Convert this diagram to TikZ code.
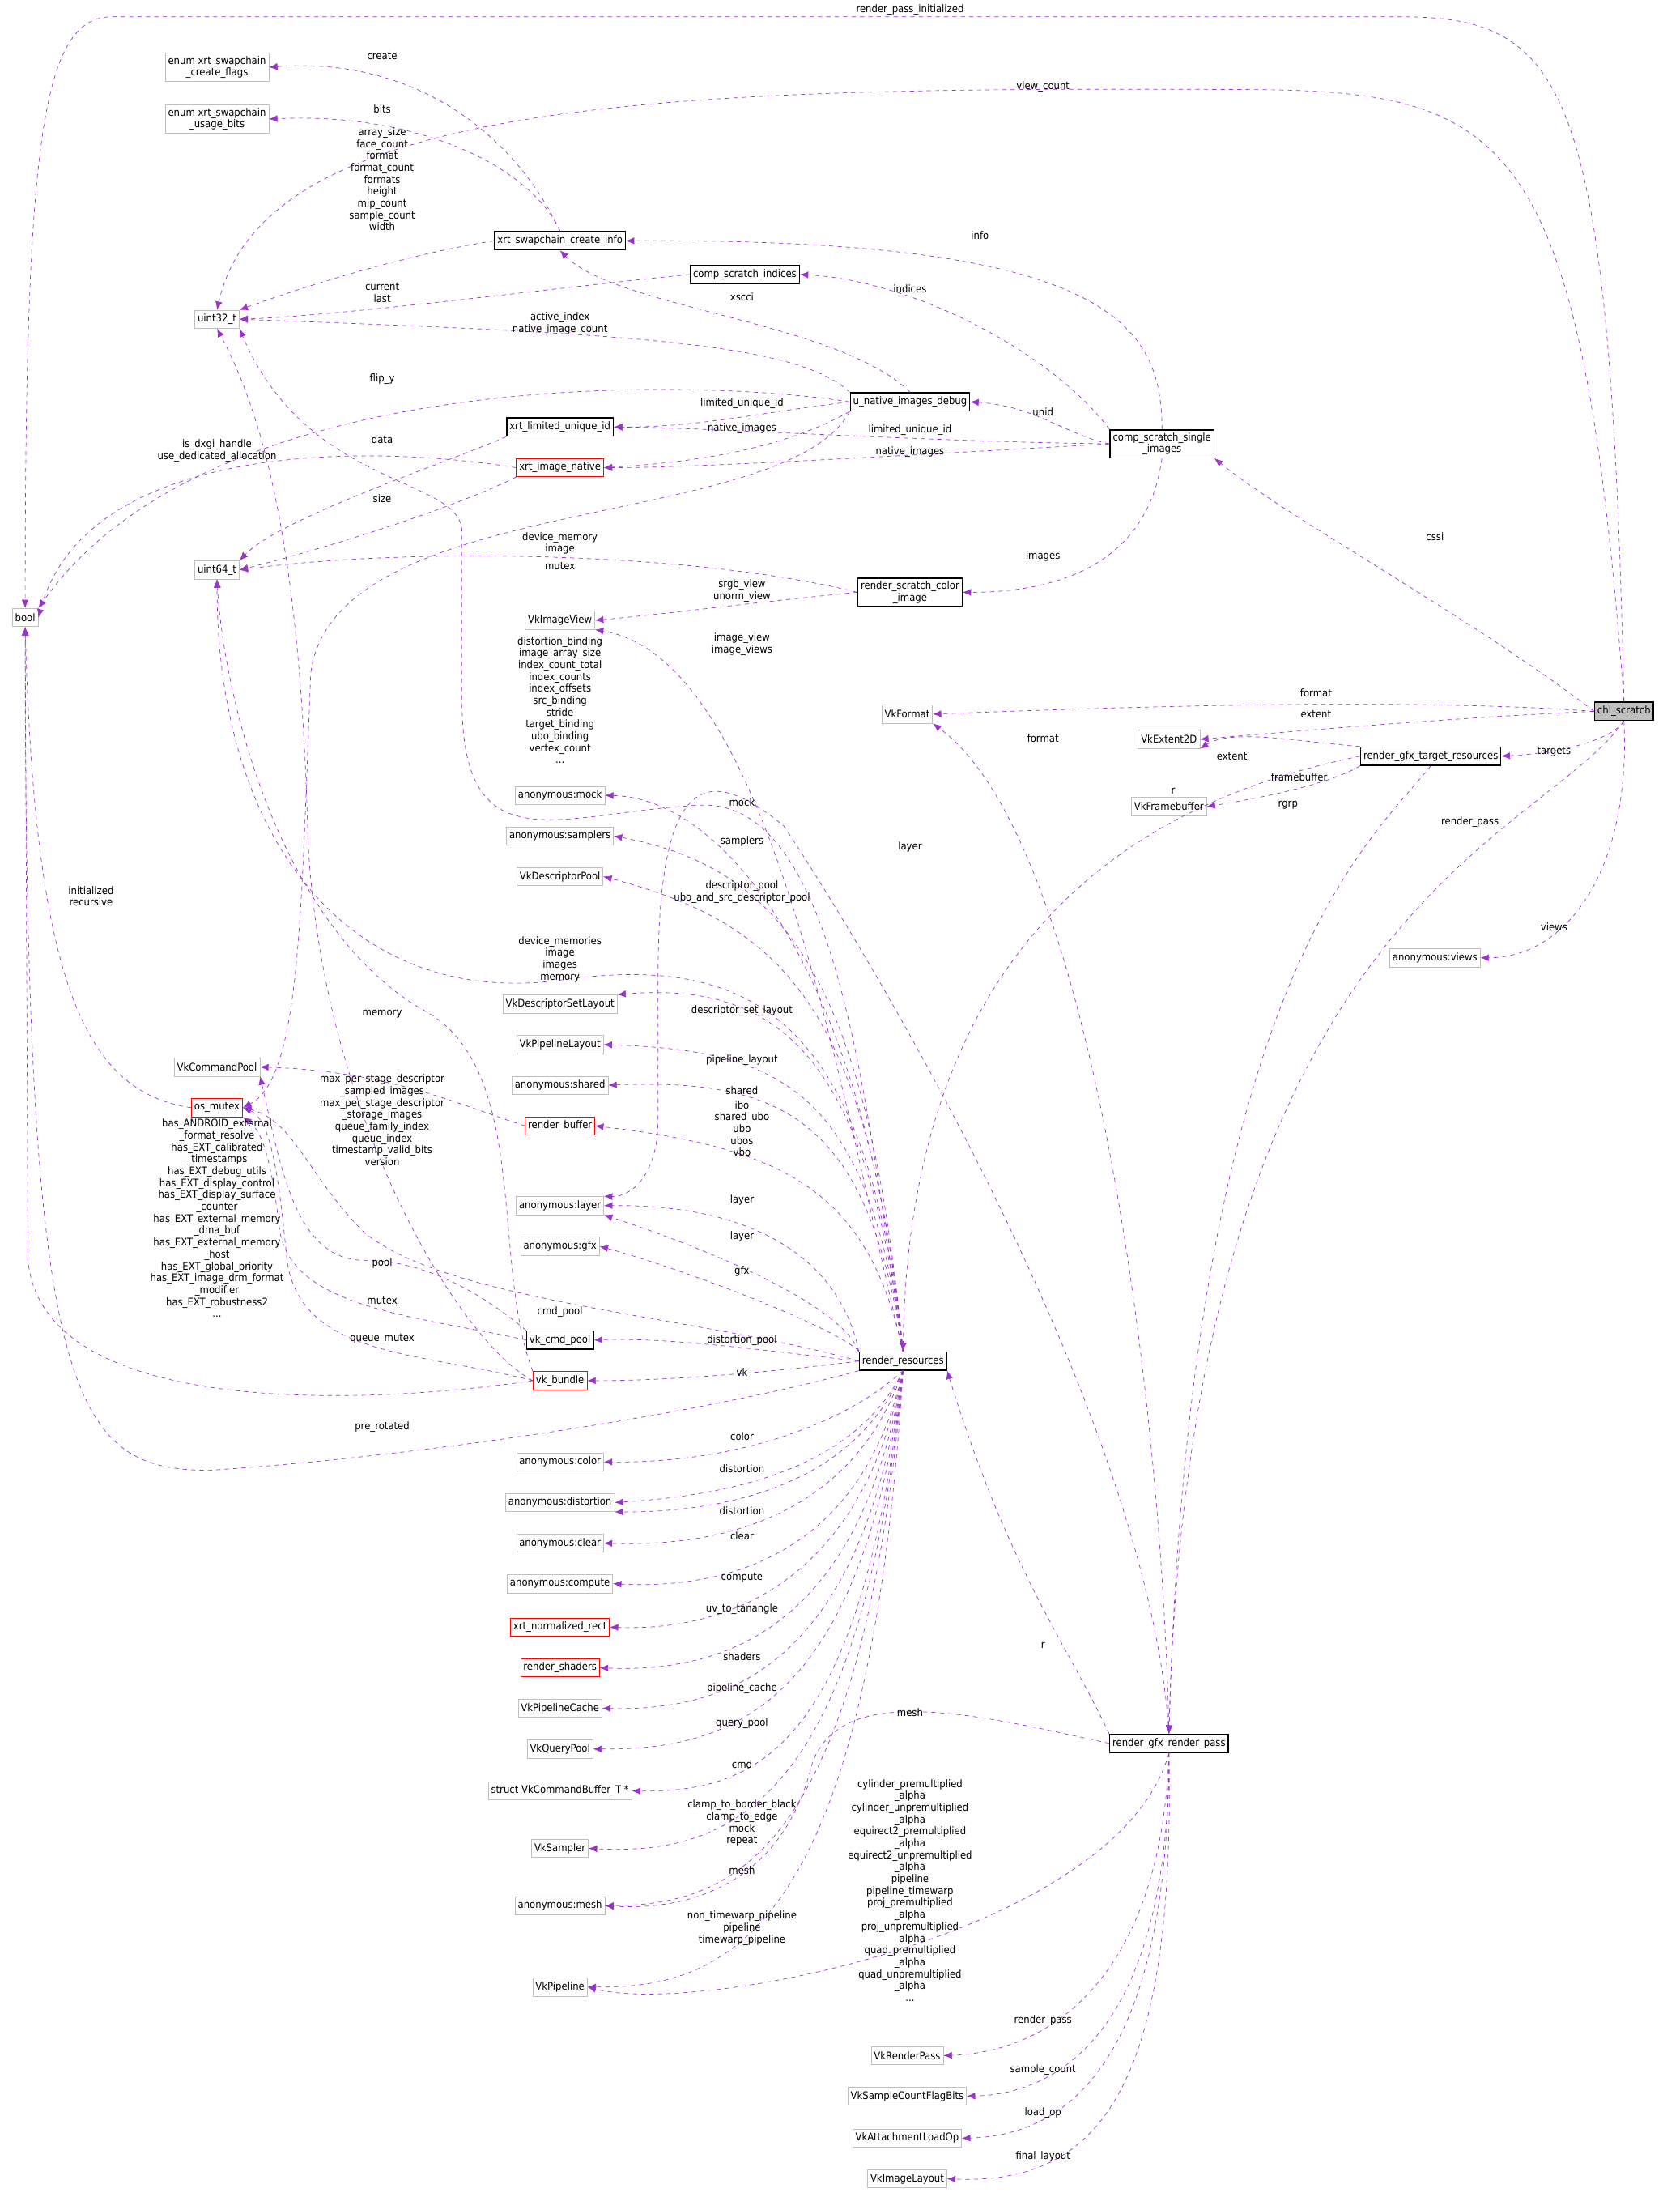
\documentclass[tikz,border=0pt]{standalone}
\usepackage{fontspec}
\setmainfont{DejaVu Sans Condensed}
\usetikzlibrary{arrows.meta}
\definecolor{depcol}{RGB}{154,50,205}
\definecolor{boxgray}{RGB}{191,191,191}
\tikzset{
  box/.style={draw, rectangle, inner sep=2pt, minimum height=13pt, align=center, font=\fontsize{7.5}{8.5}\selectfont},
  gbox/.style={box, draw=boxgray},
  bbox/.style={box, draw=black, thick},
  rbox/.style={box, draw=red},
  dep/.style={draw=depcol, dashed, -{Latex[length=6pt,width=5pt]}},
  lbl/.style={align=center, font=\fontsize{7.5}{8.5}\selectfont, inner sep=0pt},
}

\begin{document}
\begin{tikzpicture}[x=1pt,y=-1pt]
  \useasboundingbox (0,0) rectangle (1200,1569);
  % classes
  \node[box, draw=black, thick, fill=boxgray] (chl) at (1160,508) {chl\_scratch};
  \node[gbox] (bool) at (18,441) {bool};
  \node[gbox] (cflags) at (155,48) {enum xrt\_swapchain\\\_create\_flags};
  \node[gbox] (ubits) at (155,85) {enum xrt\_swapchain\\\_usage\_bits};
  \node[gbox] (u32) at (155,228) {uint32\_t};
  \node[bbox] (xsci) at (400,172) {xrt\_swapchain\_create\_info};
  \node[bbox] (csi) at (532,196) {comp\_scratch\_indices};
  \node[bbox] (unid) at (650,287) {u\_native\_images\_debug};
  \node[bbox] (xluid) at (400,305) {xrt\_limited\_unique\_id};
  \node[rbox] (xin) at (400,334) {xrt\_image\_native};
  \node[bbox] (cssi) at (830,317) {comp\_scratch\_single\\\_images};
  \node[gbox] (u64) at (155,407) {uint64\_t};
  \node[bbox] (rsci) at (650,423) {render\_scratch\_color\\\_image};
  \node[gbox] (imgview) at (400,443) {VkImageView};
  \node[gbox] (fmt) at (648,510) {VkFormat};
  \node[gbox] (ext) at (835,528) {VkExtent2D};
  \node[bbox] (rgtr) at (1022,540) {render\_gfx\_target\_resources};
  \node[gbox] (fb) at (835,576) {VkFramebuffer};
  \node[gbox] (views) at (1025,684) {anonymous:views};
  \node[gbox] (mock) at (400,568) {anonymous:mock};
  \node[gbox] (samplers) at (400,597) {anonymous:samplers};
  \node[gbox] (dpool) at (400,626) {VkDescriptorPool};
  \node[gbox] (dsl) at (400,717) {VkDescriptorSetLayout};
  \node[gbox] (plyt) at (400,746) {VkPipelineLayout};
  \node[gbox] (shared) at (400,775) {anonymous:shared};
  \node[rbox] (rbuf) at (400,804) {render\_buffer};
  \node[gbox] (layer) at (400,861) {anonymous:layer};
  \node[gbox] (gfx) at (400,890) {anonymous:gfx};
  \node[bbox] (vkcp) at (400,957) {vk\_cmd\_pool};
  \node[rbox] (vkb) at (400,986) {vk\_bundle};
  \node[gbox] (cpool) at (155,762) {VkCommandPool};
  \node[rbox] (osm) at (155,791) {os\_mutex};
  \node[bbox] (rr) at (645,972) {render\_resources};
  \node[gbox] (color) at (400,1044) {anonymous:color};
  \node[gbox] (dist) at (400,1073) {anonymous:distortion};
  \node[gbox] (clear) at (400,1102) {anonymous:clear};
  \node[gbox] (compute) at (400,1131) {anonymous:compute};
  \node[rbox] (xnr) at (400,1162) {xrt\_normalized\_rect};
  \node[rbox] (shaders) at (400,1191) {render\_shaders};
  \node[gbox] (pcache) at (400,1220) {VkPipelineCache};
  \node[gbox] (qpool) at (400,1249) {VkQueryPool};
  \node[gbox] (cmdbuf) at (400,1279) {struct VkCommandBuffer\_T *};
  \node[gbox] (sampler) at (400,1320) {VkSampler};
  \node[gbox] (mesh) at (400,1361) {anonymous:mesh};
  \node[gbox] (pipe) at (400,1419) {VkPipeline};
  \node[bbox] (rgrp) at (835,1245) {render\_gfx\_render\_pass};
  \node[gbox] (rpass) at (648,1468) {VkRenderPass};
  \node[gbox] (scount) at (648,1497) {VkSampleCountFlagBits};
  \node[gbox] (loadop) at (648,1527) {VkAttachmentLoadOp};
  \node[gbox] (ilayout) at (648,1556) {VkImageLayout};

  % chl_scratch
  \draw[dep] (chl.north) .. controls (1150,60) and (1120,12) .. (1000,12) -- (80,12) .. controls (30,12) and (18,100) .. (bool.north);
  \node[lbl] (l1) at (650,7) {render\_pass\_initialized};
  \draw[dep] (chl.north) .. controls (1130,100) and (1080,66) .. (900,64) .. controls (500,62) and (190,66) .. (u32.north);
  \node[lbl] (l2) at (745,62) {view\_count};
  \draw[dep] (chl.west) .. controls (1050,440) and (920,370) .. (cssi.south east);
  \node[lbl] (l3) at (1025,383) {cssi};
  \draw[dep] (chl.west) .. controls (1000,498) and (800,505) .. (fmt.east);
  \node[lbl] (l4) at (940,495) {format};
  \draw[dep] (chl.west) .. controls (1050,512) and (950,520) .. (ext.east);
  \node[lbl] (l5) at (940,510) {extent};
  \draw[dep] (chl.south) .. controls (1150,530) and (1110,538) .. (rgtr.east);
  \node[lbl] (l6) at (1110,537) {targets};
  \draw[dep] (chl.south) .. controls (1100,600) and (850,650) .. (rgrp.north);
  \node[lbl] (l7) at (1050,587) {render\_pass};
  \draw[dep] (chl.south) .. controls (1165,620) and (1120,684) .. (views.east);
  \node[lbl] (l8) at (1110,662) {views};

  % swapchain info
  \draw[dep] (xsci.north) .. controls (370,100) and (300,40) .. (cflags.east);
  \node[lbl] (l9) at (273,40) {create};
  \draw[dep] (xsci.north) .. controls (380,120) and (300,80) .. (ubits.east);
  \node[lbl] (l10) at (273,78) {bits};
  \draw[dep] (xsci.west) .. controls (300,180) and (230,200) .. (u32.north east);
  \node[lbl] (l11) at (273,128) {array\_size\\face\_count\\format\\format\_count\\formats\\height\\mip\_count\\sample\_count\\width};
  \draw[dep] (csi.west) .. controls (400,205) and (250,225) .. (u32.east);
  \node[lbl] (l12) at (273,209) {current\\last};
  \draw[dep] (unid.north west) .. controls (570,245) and (450,238) .. (u32.east);
  \node[lbl] (l13) at (400,231) {active\_index\\native\_image\_count};
  \draw[dep] (unid.north) .. controls (600,230) and (440,220) .. (xsci.south);
  \node[lbl] (l14) at (530,212) {xscci};
  \draw[dep] (unid.west) .. controls (500,270) and (150,260) .. (bool.north east);
  \node[lbl] (l15) at (273,271) {flip\_y};
  \draw[dep] (unid.west) .. controls (540,295) and (500,305) .. (xluid.east);
  \node[lbl] (l16) at (530,288) {limited\_unique\_id};
  \draw[dep] (unid.south west) .. controls (560,320) and (500,330) .. (xin.east);
  \node[lbl] (l17) at (530,306) {native\_images};
  \draw[dep] (unid.south west) .. controls (560,380) and (240,350) .. (222,480) .. controls (215,650) and (215,770) .. (osm.east);
  \node[lbl] (l18) at (400,404) {mutex};
  \draw[dep] (cssi.north west) .. controls (750,250) and (650,200) .. (csi.east);
  \node[lbl] (l19) at (650,206) {indices};
  \draw[dep] (cssi.north) .. controls (830,230) and (790,170) .. (xsci.east);
  \node[lbl] (l20) at (700,168) {info};
  \draw[dep] (cssi.west) .. controls (760,310) and (740,290) .. (unid.east);
  \node[lbl] (l21) at (745,294) {unid};
  \draw[dep] (cssi.west) .. controls (650,315) and (500,305) .. (xluid.east);
  \node[lbl] (l22) at (650,307) {limited\_unique\_id};
  \draw[dep] (cssi.west) .. controls (650,325) and (500,334) .. (xin.east);
  \node[lbl] (l23) at (650,323) {native\_images};
  \draw[dep] (cssi.south) .. controls (820,400) and (760,423) .. (rsci.east);
  \node[lbl] (l24) at (745,397) {images};
  \draw[dep] (xluid.south west) .. controls (320,330) and (200,370) .. (u64.north east);
  \node[lbl] (l25) at (273,314) {data};
  \draw[dep] (xin.west) .. controls (250,315) and (60,320) .. (bool.east);
  \node[lbl] (l26) at (155,322) {is\_dxgi\_handle\\use\_dedicated\_allocation};
  \draw[dep] (xin.south west) .. controls (320,365) and (220,395) .. (u64.east);
  \node[lbl] (l27) at (273,356) {size};
  \draw[dep] (rsci.west) .. controls (500,395) and (300,390) .. (u64.east);
  \node[lbl] (l28) at (400,388) {device\_memory\\image};
  \draw[dep] (rsci.west) .. controls (540,430) and (480,438) .. (imgview.east);
  \node[lbl] (l29) at (530,422) {srgb\_view\\unorm\_view};

  % vulkan helpers
  \draw[dep] (rbuf.west) .. controls (330,790) and (280,765) .. (cpool.east);
  \draw[dep] (vkb.north west) .. controls (350,900) and (380,760) .. (300,720) .. controls (200,660) and (160,500) .. (u64.south);
  \node[lbl] (l30) at (273,724) {memory};
  \draw[dep] (vkb.west) .. controls (330,960) and (230,800) .. (220,600) .. controls (215,400) and (190,300) .. (u32.south);
  \node[lbl] (l31) at (273,800) {max\_per\_stage\_descriptor\\\_sampled\_images\\max\_per\_stage\_descriptor\\\_storage\_images\\queue\_family\_index\\queue\_index\\timestamp\_valid\_bits\\version};
  \draw[dep] (vkcp.north west) .. controls (340,920) and (300,900) .. (260,900) .. controls (210,900) and (200,830) .. (cpool.south east);
  \node[lbl] (l32) at (273,902) {pool};
  \draw[dep] (vkcp.west) .. controls (300,940) and (210,935) .. (200,880) .. controls (195,840) and (190,810) .. (osm.south east);
  \node[lbl] (l33) at (273,929) {mutex};
  \draw[dep] (vkb.west) .. controls (300,965) and (215,970) .. (205,900) .. controls (200,850) and (195,800) .. (osm.east);
  \node[lbl] (l34) at (273,956) {queue\_mutex};
  \draw[dep] (vkb.west) .. controls (250,1005) and (30,1010) .. (20,900) -- (bool.south);
  \node[lbl] (l35) at (155,870) {has\_ANDROID\_external\\\_format\_resolve\\has\_EXT\_calibrated\\\_timestamps\\has\_EXT\_debug\_utils\\has\_EXT\_display\_control\\has\_EXT\_display\_surface\\\_counter\\has\_EXT\_external\_memory\\\_dma\_buf\\has\_EXT\_external\_memory\\\_host\\has\_EXT\_global\_priority\\has\_EXT\_image\_drm\_format\\\_modifier\\has\_EXT\_robustness2\\...};
  \draw[dep] (osm.west) .. controls (60,780) and (25,700) .. (bool.south);
  \node[lbl] (l36) at (65,640) {initialized\\recursive};

  % render_resources
  \draw[dep] (rr.north) .. controls (620,800) and (600,570) .. (500,575) .. controls (400,580) and (330,620) .. (330,500) -- (330,380) .. controls (330,340) and (220,350) .. (u32.south east);
  \node[lbl] (l37) at (400,500) {distortion\_binding\\image\_array\_size\\index\_count\_total\\index\_counts\\index\_offsets\\src\_binding\\stride\\target\_binding\\ubo\_binding\\vertex\_count\\...};
  \draw[dep] (rr.north) .. controls (600,780) and (550,470) .. (imgview.south east);
  \node[lbl] (l38) at (530,460) {image\_view\\image\_views};
  \draw[dep] (rr.north) .. controls (620,700) and (520,570) .. (mock.east);
  \node[lbl] (l39) at (530,573) {mock};
  \draw[dep] (rr.north) .. controls (620,700) and (560,620) .. (samplers.east);
  \node[lbl] (l40) at (530,601) {samplers};
  \draw[dep] (rr.north) .. controls (620,720) and (560,660) .. (dpool.east);
  \node[lbl] (l41) at (530,637) {descriptor\_pool\\ubo\_and\_src\_descriptor\_pool};
  \draw[dep] (rr.north) .. controls (620,730) and (540,680) .. (400,700) .. controls (250,720) and (155,600) .. (u64.south);
  \node[lbl] (l42) at (400,685) {device\_memories\\image\\images\\memory};
  \draw[dep] (rr.north) .. controls (620,760) and (560,700) .. (dsl.north east);
  \node[lbl] (l43) at (530,722) {descriptor\_set\_layout};
  \draw[dep] (rr.north) .. controls (620,780) and (560,750) .. (plyt.east);
  \node[lbl] (l44) at (530,757) {pipeline\_layout};
  \draw[dep] (rr.north) .. controls (620,800) and (560,770) .. (shared.east);
  \node[lbl] (l45) at (530,779) {shared};
  \draw[dep] (rr.north) .. controls (620,850) and (560,820) .. (rbuf.east);
  \node[lbl] (l46) at (530,806) {ibo\\shared\_ubo\\ubo\\ubos\\vbo};
  \draw[dep] (rr.north west) .. controls (600,900) and (540,860) .. (layer.east);
  \node[lbl] (l47) at (530,857) {layer};
  \draw[dep] (rr.north west) .. controls (600,930) and (500,890) .. (layer.south east);
  \node[lbl] (l48) at (530,883) {layer};
  \draw[dep] (rr.north west) .. controls (600,950) and (500,910) .. (gfx.east);
  \node[lbl] (l49) at (530,908) {gfx};
  \draw[dep] (rr.west) .. controls (500,940) and (320,930) .. (260,880) .. controls (220,840) and (210,800) .. (osm.east);
  \node[lbl] (l50) at (400,937) {cmd\_pool};
  \draw[dep] (rr.west) .. controls (550,965) and (480,955) .. (vkcp.east);
  \node[lbl] (l51) at (530,957) {distortion\_pool};
  \draw[dep] (rr.west) .. controls (550,980) and (480,986) .. (vkb.east);
  \node[lbl] (l52) at (530,980) {vk};
  \draw[dep] (rr.south west) .. controls (500,1010) and (300,1040) .. (150,1050) .. controls (50,1050) and (18,1000) .. (bool.south);
  \node[lbl] (l53) at (273,1019) {pre\_rotated};
  \draw[dep] (rr.south) .. controls (600,1020) and (520,1045) .. (color.east);
  \node[lbl] (l54) at (530,1026) {color};
  \draw[dep] (rr.south) .. controls (610,1050) and (520,1068) .. (dist.east);
  \node[lbl] (l55) at (530,1049) {distortion};
  \draw[dep] (rr.south) .. controls (610,1060) and (520,1080) .. (dist.south east);
  \node[lbl] (l56) at (530,1079) {distortion};
  \draw[dep] (rr.south) .. controls (610,1080) and (520,1105) .. (clear.east);
  \node[lbl] (l57) at (530,1097) {clear};
  \draw[dep] (rr.south) .. controls (615,1110) and (520,1135) .. (compute.east);
  \node[lbl] (l58) at (530,1127) {compute};
  \draw[dep] (rr.south) .. controls (615,1130) and (520,1165) .. (xnr.east);
  \node[lbl] (l59) at (530,1149) {uv\_to\_tanangle};
  \draw[dep] (rr.south) .. controls (615,1160) and (520,1195) .. (shaders.east);
  \node[lbl] (l60) at (530,1183) {shaders};
  \draw[dep] (rr.south) .. controls (615,1190) and (520,1222) .. (pcache.east);
  \node[lbl] (l61) at (530,1206) {pipeline\_cache};
  \draw[dep] (rr.south) .. controls (615,1220) and (520,1250) .. (qpool.east);
  \node[lbl] (l62) at (530,1231) {query\_pool};
  \draw[dep] (rr.south) .. controls (615,1250) and (540,1280) .. (cmdbuf.east);
  \node[lbl] (l63) at (530,1260) {cmd};
  \draw[dep] (rr.south) .. controls (615,1290) and (520,1325) .. (sampler.east);
  \node[lbl] (l64) at (530,1302) {clamp\_to\_border\_black\\clamp\_to\_edge\\mock\\repeat};
  \draw[dep] (rr.south) .. controls (615,1330) and (520,1360) .. (mesh.east);
  \node[lbl] (l65) at (530,1336) {mesh};
  \draw[dep] (rr.south) .. controls (620,1380) and (520,1420) .. (pipe.east);
  \node[lbl] (l66) at (530,1377) {non\_timewarp\_pipeline\\pipeline\\timewarp\_pipeline};

  % render targets and passes
  \draw[dep] (rgtr.west) .. controls (850,565) and (650,640) .. (rr.north);
  \node[lbl] (l67) at (838,565) {r};
  \draw[dep] (rgtr.north west) .. controls (930,530) and (880,520) .. (ext.south east);
  \node[lbl] (l68) at (880,540) {extent};
  \draw[dep] (rgtr.south west) .. controls (950,560) and (900,570) .. (fb.east);
  \node[lbl] (l69) at (928,555) {framebuffer};
  \draw[dep] (rgtr.south) .. controls (980,600) and (850,700) .. (rgrp.north);
  \node[lbl] (l70) at (920,575) {rgrp};
  \draw[dep] (rgrp.north) .. controls (830,1000) and (780,600) .. (fmt.south east);
  \node[lbl] (l71) at (745,527) {format};
  \draw[dep] (rgrp.north) .. controls (820,1000) and (600,650) .. (560,590) .. controls (500,540) and (470,560) .. (470,700) -- (470,800) .. controls (470,840) and (450,855) .. (layer.north east);
  \node[lbl] (l72) at (650,605) {layer};
  \draw[dep] (rgrp.north west) .. controls (760,1170) and (720,1120) .. (rr.south east);
  \node[lbl] (l73) at (745,1175) {r};
  \draw[dep] (rgrp.west) .. controls (700,1225) and (600,1200) .. (580,1260) .. controls (560,1340) and (500,1365) .. (mesh.east);
  \node[lbl] (l74) at (650,1223) {mesh};
  \draw[dep] (rgrp.south) .. controls (800,1380) and (500,1440) .. (pipe.east);
  \node[lbl] (l75) at (650,1350) {cylinder\_premultiplied\\\_alpha\\cylinder\_unpremultiplied\\\_alpha\\equirect2\_premultiplied\\\_alpha\\equirect2\_unpremultiplied\\\_alpha\\pipeline\\pipeline\_timewarp\\proj\_premultiplied\\\_alpha\\proj\_unpremultiplied\\\_alpha\\quad\_premultiplied\\\_alpha\\quad\_unpremultiplied\\\_alpha\\...};
  \draw[dep] (rgrp.south) .. controls (830,1400) and (760,1465) .. (rpass.east);
  \node[lbl] (l76) at (745,1443) {render\_pass};
  \draw[dep] (rgrp.south) .. controls (835,1430) and (770,1495) .. (scount.east);
  \node[lbl] (l77) at (745,1478) {sample\_count};
  \draw[dep] (rgrp.south) .. controls (835,1460) and (770,1525) .. (loadop.east);
  \node[lbl] (l78) at (745,1509) {load\_op};
  \draw[dep] (rgrp.south) .. controls (840,1500) and (780,1560) .. (ilayout.east);
  \node[lbl] (l79) at (745,1540) {final\_layout};
\end{tikzpicture}
\end{document}
